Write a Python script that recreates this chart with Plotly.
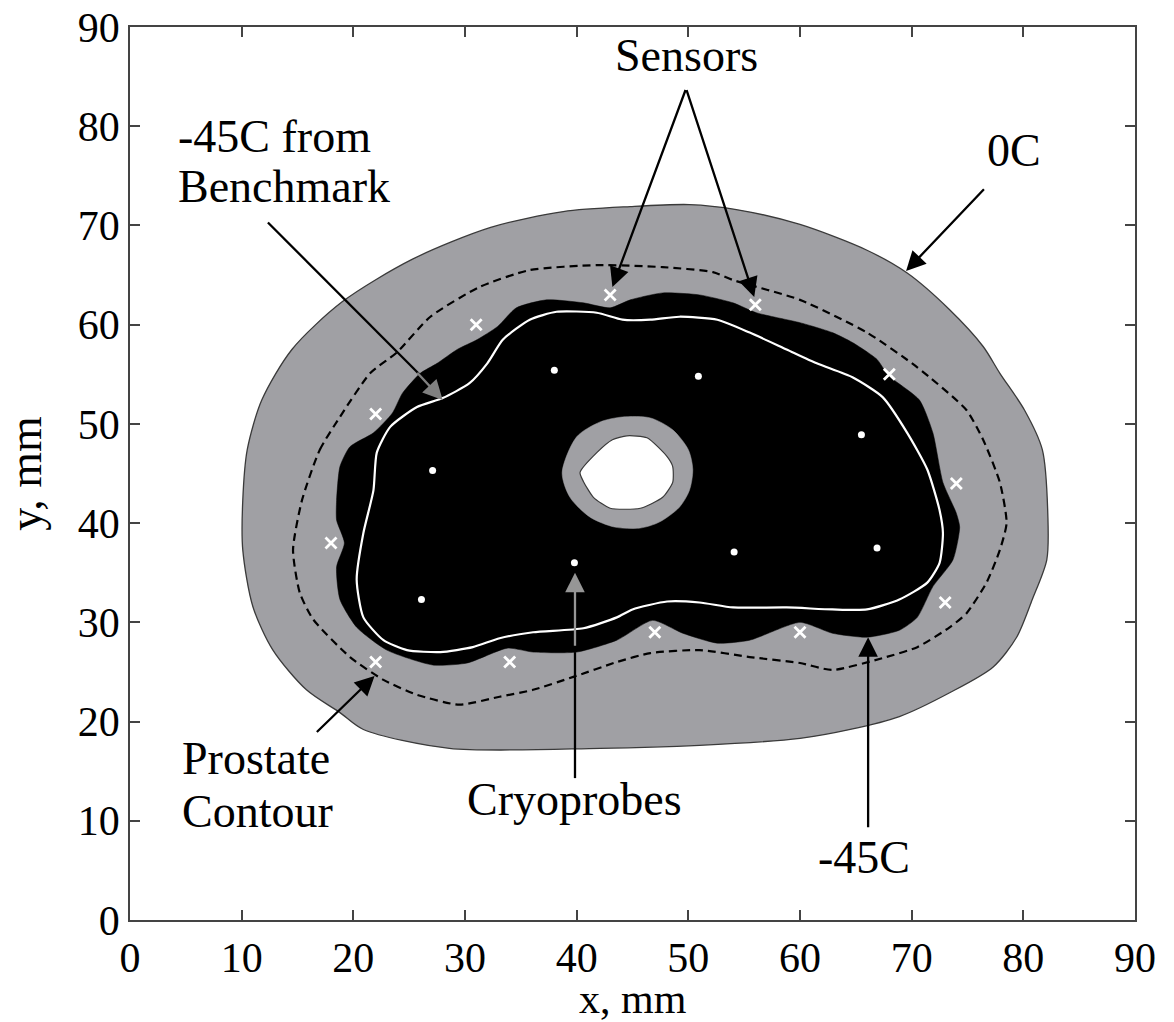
import plotly.graph_objects as go

# ---- data (mm) ----
outer_x = [10.1, 10.5, 11.8, 14.5, 19.0, 25.3, 32.3, 38.8, 44.8, 50.1, 54.3, 60.0, 66.0, 69.6, 73.4, 76.4, 77.9, 80.1, 81.7, 82.2, 82.1, 80.8, 79.4, 77.3, 73.4, 68.9, 64.5, 60.0, 51.0, 42.1, 28.6, 20.9, 18.8, 15.8, 12.8, 11.0, 10.1, 10.1]
outer_y = [42.3, 47.4, 52.4, 57.5, 62.3, 66.6, 69.8, 71.4, 71.9, 72.1, 71.6, 70.1, 67.5, 65.2, 61.5, 57.8, 55.1, 51.4, 47.4, 40.6, 36.3, 32.3, 28.5, 25.5, 22.9, 20.5, 19.2, 18.3, 17.6, 17.3, 17.3, 19.2, 20.9, 23.2, 27.2, 31.6, 37.3, 42.3]

frozen_x = [18.5, 18.8, 19.7, 21.8, 23.5, 24.4, 26.0, 27.5, 29.3, 31.1, 32.9, 34.6, 37.3, 40.6, 43.0, 44.8, 47.7, 51.0, 54.0, 56.1, 60.0, 62.9, 64.7, 66.9, 67.9, 70.7, 71.9, 72.8, 74.0, 74.3, 73.7, 71.9, 70.5, 68.9, 66.0, 62.9, 60.0, 55.5, 52.6, 49.5, 46.8, 43.6, 40.0, 36.1, 33.8, 30.2, 27.1, 23.0, 20.3, 18.8, 18.5, 19.2, 18.5, 18.5]
frozen_y = [42.3, 45.7, 47.7, 49.1, 51.1, 53.1, 55.1, 56.1, 57.5, 58.5, 59.8, 61.7, 62.5, 62.2, 61.7, 62.5, 63.2, 63.0, 62.2, 61.2, 60.2, 59.2, 58.2, 56.5, 54.9, 52.4, 49.1, 44.1, 41.0, 39.6, 36.3, 33.6, 30.5, 29.2, 28.5, 28.9, 30.0, 28.2, 27.9, 28.9, 30.2, 28.2, 27.0, 27.0, 27.4, 25.9, 25.7, 27.2, 29.5, 32.3, 35.6, 38.0, 40.3, 42.3]

bench_x = [21.8, 22.1, 23.3, 25.7, 28.0, 30.4, 32.0, 33.4, 35.8, 38.2, 41.8, 44.1, 46.6, 49.2, 52.6, 55.5, 58.8, 61.5, 64.7, 67.4, 69.6, 71.4, 72.5, 72.8, 72.5, 71.4, 68.9, 66.0, 62.9, 58.8, 54.0, 51.0, 48.1, 45.0, 43.6, 40.6, 36.1, 33.1, 30.7, 27.8, 24.8, 22.7, 20.9, 20.3, 20.9, 21.8]
bench_y = [43.3, 47.1, 49.7, 51.7, 52.6, 54.1, 56.1, 58.5, 60.5, 61.3, 61.2, 60.5, 60.5, 60.8, 60.5, 59.2, 57.5, 56.1, 54.7, 52.7, 49.1, 45.4, 41.3, 39.0, 36.0, 34.0, 32.3, 31.3, 31.3, 31.5, 31.5, 32.0, 32.1, 31.3, 30.5, 29.4, 29.0, 28.4, 27.5, 27.0, 27.2, 28.2, 30.5, 34.3, 39.0, 43.3]

prostate_x = [15.4, 17.0, 18.8, 21.5, 23.9, 26.9, 31.3, 35.8, 41.8, 47.7, 52.2, 54.0, 60.0, 66.0, 70.5, 74.9, 76.4, 77.9, 78.5, 77.9, 76.7, 74.9, 73.4, 70.5, 67.4, 62.9, 60.0, 55.5, 51.0, 46.6, 43.6, 39.7, 36.1, 33.1, 29.5, 25.7, 22.7, 19.7, 16.4, 15.2, 14.6, 15.4]
prostate_y = [42.3, 47.4, 50.7, 55.1, 57.2, 60.8, 63.8, 65.5, 66.0, 65.8, 65.3, 64.5, 62.5, 59.2, 55.7, 51.4, 48.4, 44.1, 40.0, 37.3, 34.0, 30.9, 29.5, 27.5, 26.4, 25.2, 25.9, 26.5, 27.2, 26.9, 26.0, 24.5, 23.2, 22.5, 21.7, 22.7, 24.2, 26.5, 30.3, 33.0, 37.3, 42.3]

ring_x = [38.7, 40.0, 42.1, 44.1, 46.6, 48.6, 50.0, 50.4, 50.1, 49.2, 47.4, 45.7, 43.4, 41.2, 39.4, 38.7]
ring_y = [45.1, 48.7, 50.2, 50.7, 50.6, 49.4, 47.4, 45.4, 43.3, 41.6, 40.1, 39.5, 39.6, 40.6, 42.6, 45.1]

hole_x = [40.3, 41.8, 43.2, 44.5, 46.3, 48.1, 48.6, 48.6, 47.7, 45.7, 43.0, 41.5, 40.6, 40.3]
hole_y = [45.1, 47.1, 48.4, 48.8, 48.6, 46.7, 45.7, 44.1, 42.6, 41.5, 41.5, 42.6, 44.2, 45.1]

sensor_x = [31, 22, 18, 22, 34, 47, 60, 73, 74, 68, 56, 43]
sensor_y = [60, 51, 38, 26, 26, 29, 29, 32, 44, 55, 62, 63]

probe_x = [38.0, 50.9, 65.5, 27.1, 66.9, 54.1, 39.8, 26.1]
probe_y = [55.4, 54.8, 48.9, 45.3, 37.5, 37.1, 36.0, 32.3]

tick_vals = [0, 10, 20, 30, 40, 50, 60, 70, 80, 90]

GRAY = "rgb(160,160,164)"
FONT = "Liberation Serif, Times New Roman, serif"
LABEL_SIZE = 46

fig = go.Figure()
fig.add_trace(go.Scatter(x=outer_x, y=outer_y, mode="lines", fill="toself",
                         fillcolor=GRAY, line=dict(color="#3a3a3a", width=1.3),
                         hoverinfo="skip", line_shape="spline", line_smoothing=0.8))
fig.add_trace(go.Scatter(x=frozen_x, y=frozen_y, mode="lines", fill="toself",
                         fillcolor="black", line=dict(color="black", width=0.5),
                         hoverinfo="skip", line_shape="spline", line_smoothing=0.6))
fig.add_trace(go.Scatter(x=ring_x, y=ring_y, mode="lines", fill="toself",
                         fillcolor=GRAY, line=dict(color=GRAY, width=0.5),
                         hoverinfo="skip", line_shape="spline", line_smoothing=0.8))
fig.add_trace(go.Scatter(x=hole_x, y=hole_y, mode="lines", fill="toself",
                         fillcolor="white", line=dict(color="#3a3a3a", width=1.2),
                         hoverinfo="skip", line_shape="spline", line_smoothing=0.6))
fig.add_trace(go.Scatter(x=bench_x, y=bench_y, mode="lines",
                         line=dict(color="white", width=2.2),
                         hoverinfo="skip", line_shape="spline", line_smoothing=0.6))
fig.add_trace(go.Scatter(x=prostate_x, y=prostate_y, mode="lines",
                         line=dict(color="black", width=2.2, dash="8px,5px"),
                         hoverinfo="skip", line_shape="spline", line_smoothing=0.6))
fig.add_trace(go.Scatter(x=sensor_x, y=sensor_y, mode="markers",
                         marker=dict(symbol="x-thin", size=11,
                                     line=dict(color="white", width=2.8)),
                         hoverinfo="skip"))
fig.add_trace(go.Scatter(x=probe_x, y=probe_y, mode="markers",
                         marker=dict(symbol="circle", size=7, color="white"),
                         hoverinfo="skip"))

def arrow(x0, y0, x1, y1, color="black"):
    fig.add_annotation(x=x1, y=y1, ax=x0, ay=y0, xref="x", yref="y",
                       axref="x", ayref="y", text="", showarrow=True,
                       arrowhead=2, arrowsize=1.7, arrowwidth=2.3,
                       arrowcolor=color)

def line(x0, y0, x1, y1):
    fig.add_shape(type="line", x0=x0, y0=y0, x1=x1, y1=y1, xref="x", yref="y",
                  line=dict(color="black", width=2.3))

def label(x, y, txt, xanchor="center"):
    fig.add_annotation(x=x, y=y, xref="x", yref="y", text=txt, showarrow=False,
                       xanchor=xanchor, yanchor="middle",
                       font=dict(family=FONT, size=LABEL_SIZE, color="black"))

# Sensors
label(49.8, 87.1, "Sensors")
arrow(49.8, 83.8, 43.2, 63.8)
arrow(49.8, 83.8, 55.9, 62.8)
# 0C
label(79.2, 77.6, "0C")
arrow(76.6, 73.8, 69.5, 65.4)
# -45C from Benchmark
label(4.1, 79.0, "-45C from", xanchor="left")
label(4.1, 73.9, "Benchmark", xanchor="left")
line(12.35, 70.3, 26.0, 54.9)
arrow(25.6, 55.3, 28.0, 52.4, color="rgb(128,128,128)")
# Prostate Contour
label(4.5, 16.3, "Prostate", xanchor="left")
label(4.5, 10.9, "Contour", xanchor="left")
arrow(16.6, 18.8, 21.9, 24.6)
# Cryoprobes
label(39.85, 12.1, "Cryoprobes")
line(39.85, 14.3, 39.85, 27.0)
arrow(39.85, 27.5, 39.85, 35.0, color="rgb(150,150,150)")
# -45C
label(65.7, 6.3, "-45C")
arrow(66.1, 9.2, 66.1, 28.5)

axis_common = dict(range=[0, 90], tickvals=tick_vals, ticks="inside", ticklen=10,
                   tickwidth=1.5, tickcolor="#444", showline=True, linecolor="#444",
                   linewidth=1.5, mirror="ticks", showgrid=False, zeroline=False,
                   automargin=False,
                   tickfont=dict(family=FONT, size=42, color="black"))
fig.update_xaxes(**axis_common, ticklabelstandoff=0)
fig.update_yaxes(**axis_common, title=dict(text="y, mm", standoff=26,
                 font=dict(family=FONT, size=LABEL_SIZE, color="black")))
# x-axis title placed just under the tick labels
fig.add_annotation(x=0.5, y=0, xref="paper", yref="paper", text="x, mm",
                   showarrow=False, xanchor="center", yanchor="top", yshift=-54,
                   font=dict(family=FONT, size=42, color="black"))
fig.update_layout(width=1174, height=1022, showlegend=False,
                  plot_bgcolor="white", paper_bgcolor="white",
                  margin=dict(l=130, r=39, t=27, b=102))
fig.write_html("out.html")
